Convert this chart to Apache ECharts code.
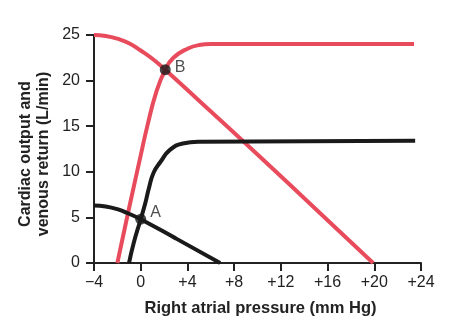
<!DOCTYPE html>
<html>
<head>
<meta charset="utf-8">
<script src="https://cdn.jsdelivr.net/npm/echarts@6/dist/echarts.min.js"></script>
<style>
html,body{margin:0;padding:0;background:#fff;}
#chart{width:460px;height:329px;}
</style>
</head>
<body>
<div id="chart"></div>
<script>
// Tick labels
const xTickLabels = ['−4', '0', '+4', '+8', '+12', '+16', '+20', '+24'];
const yTickLabels = ['0', '5', '10', '15', '20', '25'];
const yTitleLines = ['Cardiac output and', 'venous return (L/min)'];

// Elevated cardiac output curve (red), [right atrial pressure, L/min]
const redCardiacOutput = [[-2, 0], [-1, 6], [0, 11.8], [0.6, 15.2], [1.3, 18.6], [2.1, 21.2], [2.8, 22.5], [4, 23.5], [5, 23.9], [6, 24], [23.4, 24]];
// Elevated venous return curve (red)
const redVenousReturn = [[-4, 25], [-3, 24.9], [-2, 24.6], [-1, 24.1], [0, 23.3], [1, 22.4], [2.1, 21.2], [5, 17.8], [10, 11.9], [15, 5.9], [19.9, 0]];
// Normal cardiac output curve (black)
const blackCardiacOutput = [[-1, 0], [-0.6, 2.2], [0, 4.8], [0.4, 6.6], [0.7, 8.2], [1.1, 9.9], [1.7, 11.1], [2.5, 12.4], [3.6, 13.1], [5, 13.3], [23.5, 13.4]];
// Normal venous return curve (black)
const blackVenousReturn = [[-4, 6.3], [-3, 6.2], [-2, 5.9], [-1, 5.4], [0, 4.8], [3, 2.7], [6.8, 0]];
// Equilibrium points
const pointNames = ['A', 'B'];
const pointValues = [[0, 4.8], [2.1, 21.2]];

const RED = '#e84c5c';
const BLACK = '#1a1a1a';
const FONT = '"Liberation Sans", Arial, sans-serif';

const chart = echarts.init(document.getElementById('chart'), null, {renderer: 'canvas'});

const lineSeries = (data, color, z) => ({
  type: 'line',
  data: data,
  smooth: 0.5,
  showSymbol: false,
  symbol: 'none',
  z: z,
  lineStyle: {color: color, width: 4, cap: 'butt'},
  itemStyle: {color: color},
  animation: false
});

const yTitle = (text, x) => ({
  type: 'text',
  x: x,
  y: 154,
  rotation: Math.PI / 2,
  silent: true,
  style: {
    text: text,
    fontFamily: FONT, fontSize: 16, fontWeight: 'bold',
    fill: '#222',
    textAlign: 'center',
    textVerticalAlign: 'middle'
  }
});

chart.setOption({
  animation: false,
  grid: {left: 94, right: 39, top: 35, bottom: 66},
  graphic: [yTitle(yTitleLines[0], 25.5), yTitle(yTitleLines[1], 44)],
  xAxis: {
    type: 'value',
    min: -4, max: 24, interval: 4,
    name: 'Right atrial pressure (mm Hg)',
    nameLocation: 'middle',
    nameGap: 37,
    nameTextStyle: {fontFamily: FONT, fontSize: 16.5, fontWeight: 'bold', color: '#222', padding: [0, 0, 0, 6]},
    axisLine: {show: true, onZero: false, lineStyle: {color: '#222', width: 2}},
    axisTick: {show: true, length: 8, lineStyle: {color: '#222', width: 2}},
    axisLabel: {
      fontFamily: FONT, fontSize: 16, color: '#222', margin: 12,
      formatter: v => xTickLabels[Math.round((v + 4) / 4)]
    },
    splitLine: {show: false}
  },
  yAxis: {
    type: 'value',
    min: 0, max: 25, interval: 5,
    axisLine: {show: true, onZero: false, lineStyle: {color: '#222', width: 2}},
    axisTick: {show: true, length: 8, lineStyle: {color: '#222', width: 2}},
    axisLabel: {
      fontFamily: FONT, fontSize: 16, color: '#222', margin: 14,
      formatter: v => yTickLabels[Math.round(v / 5)]
    },
    splitLine: {show: false}
  },
  series: [
    lineSeries(redVenousReturn, RED, 2),
    lineSeries(redCardiacOutput, RED, 2),
    lineSeries(blackCardiacOutput, BLACK, 3),
    lineSeries(blackVenousReturn, BLACK, 3),
    {
      type: 'scatter',
      z: 5,
      symbolSize: 11,
      itemStyle: {color: BLACK},
      data: pointValues.map((p, i) => ({
        value: p,
        name: pointNames[i],
        label: {
          show: true,
          position: 'right',
          distance: 4,
          offset: i === 0 ? [0, -7] : [0, -2],
          formatter: pointNames[i],
          fontFamily: FONT, fontSize: 16, color: '#222'
        }
      })),
      animation: false
    }
  ]
});
</script>
</body>
</html>
